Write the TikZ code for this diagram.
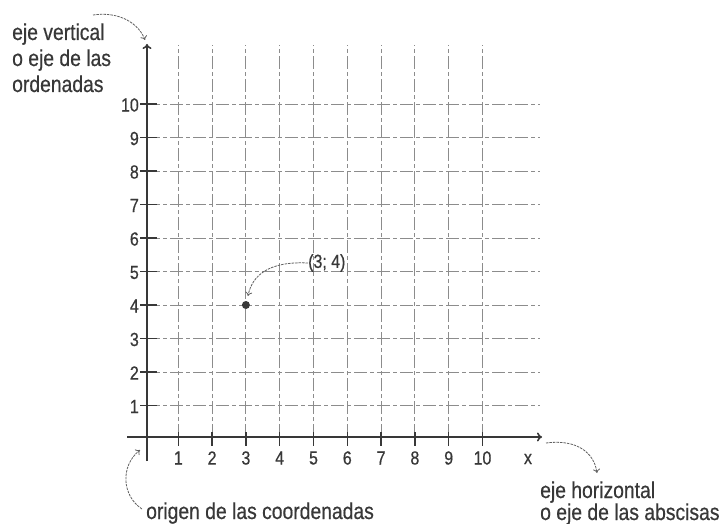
\documentclass[tikz,border=0pt]{standalone}
\usepackage{fontspec}
\setmainfont{Liberation Sans}[FakeStretch=0.84,FakeBold=0.5]
\usetikzlibrary{arrows.meta}
\definecolor{ink}{HTML}{383838}
\definecolor{gridc}{HTML}{8C8C8C}
\begin{document}
\begin{tikzpicture}[x=1pt,y=-1pt,
  axis/.style={draw=ink,line width=1.6pt,-{To[length=5pt,width=9pt]}},
  tickmark/.style={draw=ink,line width=1.3pt},
  gridline/.style={draw=gridc,line width=0.9pt,dash pattern=on 13pt off 3pt on 4pt off 3pt},
  note/.style={draw=ink!80,line width=0.8pt,dash pattern=on 2.5pt off 1pt,-{To[length=4pt,width=7pt]}},
  lab/.style={text=ink,font=\fontsize{23}{26}\selectfont,inner sep=0pt,anchor=base west},
  num/.style={text=ink,font=\fontsize{19}{22}\selectfont,inner sep=0pt}]
\useasboundingbox (0,0) rectangle (724,524);
\fill[white] (0,0) rectangle (724,524);

% grid
\foreach \i in {1,...,10}{
  \coordinate (gb\i) at ({144.5+33.8*\i},437);
  \coordinate (gt\i) at ({144.5+33.8*\i},45);
  \draw[gridline] (gb\i) -- (gt\i);
}
\foreach \j in {1,...,10}{
  \coordinate (gl\j) at (147,{439-33.5*\j});
  \coordinate (gr\j) at (540,{439-33.5*\j});
  \draw[gridline] (gl\j) -- (gr\j);
}

% axes
\coordinate (xa) at (127,437);
\coordinate (xb) at (542,437);
\coordinate (ya) at (147,461);
\coordinate (yb) at (147,44);
\draw[axis] (xa) -- (xb);
\draw[axis] (ya) -- (yb);

% ticks and labels
\foreach \i in {1,...,10}{
  \draw[tickmark] ({144.5+33.8*\i},432) -- ({144.5+33.8*\i},446);
  \node[num] (xl\i) at ({144.5+33.8*\i},458) {\i};
}
\foreach \j in {1,...,10}{
  \draw[tickmark] (140,{439-33.5*\j}) -- (157,{439-33.5*\j});
  \node[num,anchor=east] (yl\j) at (139,{440-33.5*\j}) {\j};
}
\node[num] (xlab) at (528,459) {x};

% point
\node[circle,fill=ink,inner sep=0pt,minimum size=8pt] (P) at ({144.5+33.8*3},{439-33.5*4}) {};
\node[num,anchor=west] (PL) at (308,263) {(3; 4)};
\coordinate (Ptip) at (248,296);
\draw[note] (PL.west) .. controls (268,261) and (252,276) .. (Ptip);

% texts
\node[lab] (v1) at (12,40) {eje vertical};
\node[lab] (v2) at (12,66) {o eje de las};
\node[lab] (v3) at (12,92) {ordenadas};
\node[lab] (org) at (146,519) {origen de las coordenadas};
\node[lab] (h1) at (540,498) {eje horizontal};
\node[lab] (h2) at (540,520) {o eje de las abscisas};

% annotation arrows
\coordinate (a1s) at (93,15);
\coordinate (a1e) at (145,40);
\draw[note] (a1s) .. controls (120,11) and (139,24) .. (a1e);
\coordinate (a2s) at (142,509);
\coordinate (a2e) at (140,450);
\draw[note] (a2s) .. controls (122,496) and (120,466) .. (a2e);
\coordinate (a3s) at (546,443);
\coordinate (a3e) at (597,473);
\draw[note] (a3s) .. controls (576,439) and (594,452) .. (a3e);
\end{tikzpicture}
\end{document}
